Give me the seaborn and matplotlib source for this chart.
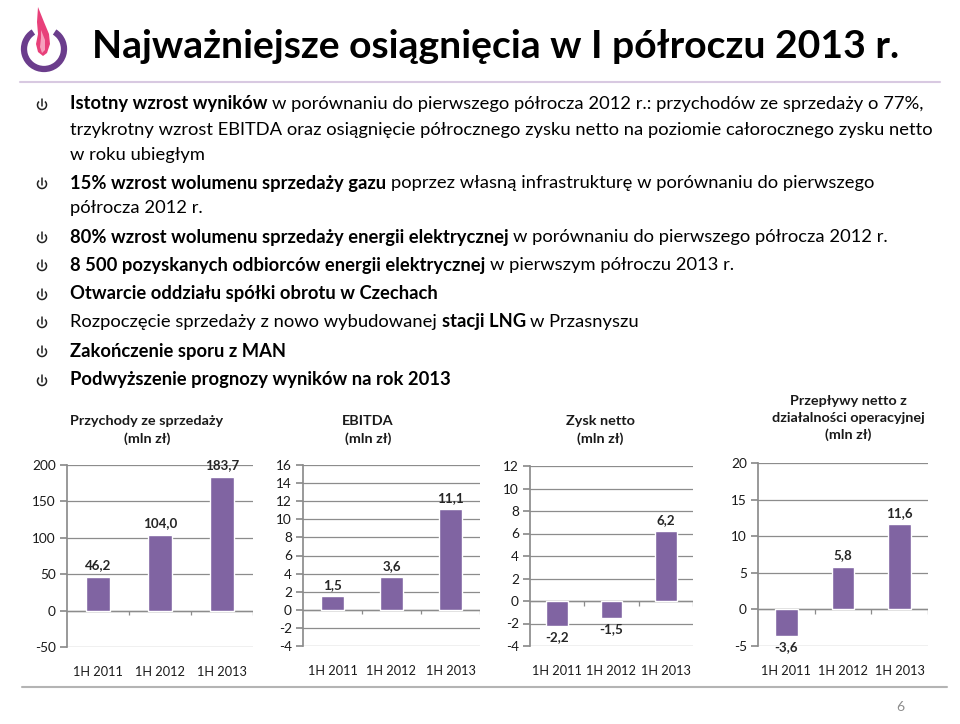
import matplotlib
matplotlib.use("Agg")
import numpy as np
import pandas as pd
import seaborn as sns
import matplotlib.pyplot as plt
from matplotlib.patches import Arc, Polygon

# ---- data ----
periods = ["1H 2011", "1H 2012", "1H 2013"]
revenue = [46.2, 104.0, 183.7]
ebitda = [1.5, 3.6, 11.1]
net_profit = [-2.2, -1.5, 6.2]
op_cashflow = [-3.6, 5.8, 11.6]

chart_titles = [
    "Przychody ze sprzedaży\n(mln zł)",
    "EBITDA\n(mln zł)",
    "Zysk netto\n(mln zł)",
    "Przepływy netto z\ndziałalności operacyjnej\n(mln zł)",
]
y_ranges = [(-50, 200, 50), (-4, 16, 2), (-4, 12, 2), (-5, 20, 5)]

title = "Najważniejsze osiągnięcia w I półroczu 2013 r."
# each bullet: list of lines, each line a list of (text, bold)
bullets = [
    [[("Istotny wzrost wyników", True),
      ("w porównaniu do pierwszego półrocza 2012 r.: przychodów ze sprzedaży o 77%,", False)],
     [("trzykrotny wzrost EBITDA oraz osiągnięcie półrocznego zysku netto na poziomie całorocznego zysku netto", False)],
     [("w roku ubiegłym", False)]],
    [[("15% wzrost wolumenu sprzedaży gazu", True),
      ("poprzez własną infrastrukturę w porównaniu do pierwszego", False)],
     [("półrocza 2012 r.", False)]],
    [[("80% wzrost wolumenu sprzedaży energii elektrycznej", True),
      (" w porównaniu do pierwszego półrocza 2012 r.", False)]],
    [[("8 500 pozyskanych odbiorców energii elektrycznej", True),
      ("w pierwszym półroczu 2013 r.", False)]],
    [[("Otwarcie oddziału spółki obrotu w Czechach", True)]],
    [[("Rozpoczęcie sprzedaży z nowo wybudowanej", False),
      ("stacji LNG", True), ("w Przasnyszu", False)]],
    [[("Zakończenie sporu z MAN", True)]],
    [[("Podwyższenie prognozy wyników na rok 2013", True)]],
]
line_y = [[104, 130, 155], [183, 208], [237], [265], [294], [322], [351], [380]]

PURPLE = "#8064A2"
FONT = ["Lato", "DejaVu Sans"]

sns.set_theme(style="white")
plt.rcParams["font.family"] = FONT
plt.rcParams["axes.unicode_minus"] = False

W, H = 960, 724
fig = plt.figure(figsize=(W / 100, H / 100), dpi=100)
fig.patch.set_facecolor("white")

# overlay axes in pixel coordinates
ov = fig.add_axes([0, 0, 1, 1], zorder=-1)
ov.set_xlim(0, W)
ov.set_ylim(H, 0)
ov.axis("off")

# logo
ov.add_patch(Arc((44, 49), 40, 40, theta1=-58, theta2=238, lw=4.5, color="#6b3d8c"))
ov.add_patch(Polygon([(38, 7), (44, 22), (49, 34), (50, 44), (47, 53), (43, 56),
                      (38, 52), (36, 44), (38, 34), (37, 22)],
                     closed=True, fc="#e8407a", ec="none"))
ov.add_patch(Polygon([(41, 30), (45, 40), (45, 50), (42, 53), (40, 47), (41, 38)],
                     closed=True, fc="#f6a0bd", ec="none"))

ov.text(92, 46, title, fontsize=28.2, fontweight="bold", va="center", ha="left", color="black")
ov.plot([20, 940], [82, 82], color="#d8c9e1", lw=1.5)
ov.plot([22, 947], [687, 687], color="#b4b4b4", lw=1.5)
ov.text(900, 707, "6", fontsize=10, color="#8c8c8c", ha="center", va="center")

renderer = fig.canvas.get_renderer()
FS = 13.2


def text_width(s, bold):
    t = ov.text(0, 0, s, fontsize=FS, fontweight="bold" if bold else "normal")
    w = t.get_window_extent(renderer).width
    t.remove()
    return w


space_w = text_width("a a", False) - text_width("aa", False)


def bullet_icon(x, y):
    ov.add_patch(Arc((x, y + 1), 9, 9, theta1=-50, theta2=230, lw=1.1, color="#222222"))
    ov.plot([x, x], [y - 5, y + 1.5], color="#222222", lw=1.1)


for lines, ys in zip(bullets, line_y):
    bullet_icon(42, ys[0])
    for parts, y in zip(lines, ys):
        x = 70
        for i, (s, bold) in enumerate(parts):
            s = s.strip()
            if i > 0:
                x += space_w
            ov.text(x, y, s, fontsize=FS, fontweight="bold" if bold else "normal",
                    va="center", ha="left", color="black")
            x += text_width(s, bold)

# ---- charts ----
boxes = [(67, 253, 465, 647), (303, 480, 465, 646), (530, 693, 466, 646), (758, 928, 463, 646)]
title_pos = [(147, 430), (368, 430), (600, 430), (848, 418)]
series = [revenue, ebitda, net_profit, op_cashflow]

for vals, (x0, x1, y0, y1), (lo, hi, step), ttl, (tx, ty) in zip(series, boxes, y_ranges, chart_titles, title_pos):
    ax = fig.add_axes([x0 / W, 1 - y1 / H, (x1 - x0) / W, (y1 - y0) / H])
    df = pd.DataFrame({"period": periods, "value": vals})
    sns.barplot(data=df, x="period", y="value", color=PURPLE, width=0.4,
                saturation=1, ax=ax, zorder=3)
    ax.set_xlim(-0.5, 2.5)
    ax.set_ylim(lo, hi)
    ax.set_yticks(np.arange(lo, hi + step / 2, step))
    ax.yaxis.grid(True, color="#8c8c8c", lw=0.9)
    ax.set_axisbelow(True)
    for sp in ["top", "right", "bottom"]:
        ax.spines[sp].set_visible(False)
    ax.spines["left"].set_color("#8c8c8c")
    ax.axhline(0, color="#8c8c8c", lw=1.0, zorder=2)
    tick_len = (hi - lo) * 0.025
    ax.vlines([0.5, 1.5, 2.5], -tick_len, 0, color="#8c8c8c", lw=0.9)
    ax.tick_params(axis="y", left=True, length=5, color="#8c8c8c", labelsize=9.8, pad=3,
                   labelcolor="#1a1a1a")
    ax.tick_params(axis="x", bottom=False, labelsize=9.2, pad=8, labelcolor="#1a1a1a")
    ax.set_xlabel("")
    ax.set_ylabel("")
    for i, v in enumerate(vals):
        lab = f"{v:.1f}".replace(".", ",")
        if v >= 0:
            ax.annotate(lab, (i, v), xytext=(0, 4), textcoords="offset points",
                        ha="center", va="bottom", fontsize=9.6, fontweight="bold")
        else:
            ax.annotate(lab, (i, v), xytext=(0, -4), textcoords="offset points",
                        ha="center", va="top", fontsize=9.6, fontweight="bold")
    ov.text(tx, ty, ttl, fontsize=10.4, fontweight="bold", ha="center", va="center",
            linespacing=1.45, color="#1a1a1a")

fig.savefig("out.png", dpi=100)
